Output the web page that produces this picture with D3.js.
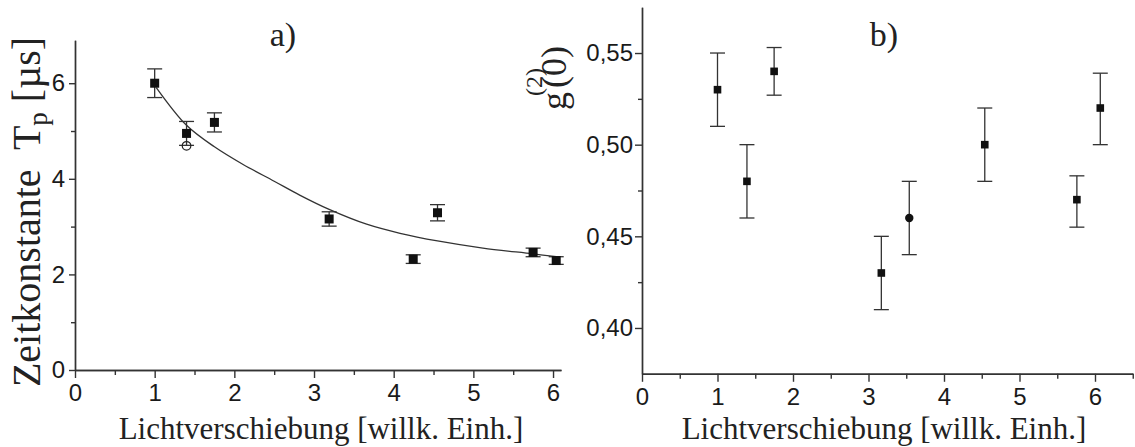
<!DOCTYPE html>
<html>
<head>
<meta charset="utf-8">
<script src="https://cdn.jsdelivr.net/npm/d3@7"></script>
<style>
  body { margin: 0; background: #fff; }
  svg { display: block; }
  .tick text { font-family: "Liberation Sans", Arial, sans-serif; fill: #1a1a1a; }
  .lbl { font-family: "Liberation Serif", "Times New Roman", serif; fill: #222; }
</style>
</head>
<body>
<svg width="1135" height="447"></svg>
<script>
// panel a: time constant vs light shift
var shiftA = [1.00, 1.40, 1.75, 3.19, 4.245, 4.55, 5.75, 6.04]
var tauA = [6.00, 4.95, 5.18, 3.16, 2.32, 3.29, 2.46, 2.29]
var tauErr = [0.30, 0.25, 0.20, 0.15, 0.09, 0.17, 0.09, 0.08]
var openShiftA = [1.40]
var openTauA = [4.69]
// fitted curve
var fitShift = [1.02, 1.40, 1.75, 2.11, 2.50, 2.82, 3.19, 3.66, 4.08, 4.55, 5.12, 5.75, 6.04]
var fitTau = [5.91, 5.12, 4.67, 4.30, 3.95, 3.66, 3.36, 3.05, 2.86, 2.70, 2.55, 2.43, 2.37]
var ticksA_x = [0, 1, 2, 3, 4, 5, 6]
var ticksA_y = [0, 2, 4, 6]

// panel b: g2(0) vs light shift
var shiftB = [1.00, 1.39, 1.75, 3.17, 4.54, 5.76, 6.07]
var g2B = [0.530, 0.480, 0.540, 0.430, 0.500, 0.470, 0.520]
var g2Lo = [0.510, 0.460, 0.527, 0.410, 0.480, 0.455, 0.500]
var g2Hi = [0.550, 0.500, 0.553, 0.450, 0.520, 0.483, 0.539]
var dotShiftB = [3.54]
var dotG2B = [0.460]
var dotLoB = [0.440]
var dotHiB = [0.480]
var ticksB_x = [0, 1, 2, 3, 4, 5, 6]
var ticksB_y = [0.40, 0.45, 0.50, 0.55]

var svg = d3.select("svg")

var axisColor = "#333"

var drawAxes = function(g, xScale, yScale, xTicks, xMinor, yTicks, yMinor, yFormat, yTickSize, yPad)
    {
        var xAxis = d3.axisBottom(xScale).tickValues(xTicks).tickSize(8).tickPadding(6).tickSizeOuter(0).tickFormat(d3.format("d"))
        var xMin = d3.axisBottom(xScale).tickValues(xMinor).tickSize(5).tickFormat("").tickSizeOuter(0)
        var yAxis = d3.axisLeft(yScale).tickValues(yTicks).tickSize(yTickSize).tickPadding(yPad).tickSizeOuter(0).tickFormat(yFormat)
        var yMin = d3.axisLeft(yScale).tickValues(yMinor).tickSize(4).tickFormat("").tickSizeOuter(0)

        var y0 = yScale.range()[0]
        var x0 = xScale.range()[0]

        g.append("g").attr("transform", "translate(0," + y0 + ")").call(xMin)
        g.append("g").attr("transform", "translate(0," + y0 + ")").call(xAxis)
            .selectAll("text").style("font-size", "24px")
        g.append("g").attr("transform", "translate(" + x0 + ",0)").call(yMin)
        g.append("g").attr("transform", "translate(" + x0 + ",0)").call(yAxis)
            .selectAll("text").style("font-size", "24px")

        g.selectAll(".domain, .tick line").attr("stroke", axisColor).attr("stroke-width", 1.4)
    }

var errBars = function(g, xs, lo, hi, xScale, yScale, cap)
    {
        var bars = g.append("g").attr("stroke", "#333").attr("stroke-width", 1.3).attr("fill", "none")
        xs.forEach(function(x, i)
            {
                var px = xScale(x)
                bars.append("line").attr("x1", px).attr("x2", px).attr("y1", yScale(lo[i])).attr("y2", yScale(hi[i]))
                bars.append("line").attr("x1", px - cap).attr("x2", px + cap).attr("y1", yScale(lo[i])).attr("y2", yScale(lo[i]))
                bars.append("line").attr("x1", px - cap).attr("x2", px + cap).attr("y1", yScale(hi[i])).attr("y2", yScale(hi[i]))
            })
    }

// ---------- panel a ----------
var xA = d3.scaleLinear().domain([0, 6.1]).range([75, 561])
var yA = d3.scaleLinear().domain([0, 6.9]).range([370, 40.2])

var gA = svg.append("g")
drawAxes(gA, xA, yA, ticksA_x, [0.5, 1.5, 2.5, 3.5, 4.5, 5.5], ticksA_y, [1, 3, 5], d3.format("d"), 6, 4)

var fitLine = d3.line()
    .x(function(d, i) { return xA(fitShift[i]) })
    .y(function(d, i) { return yA(fitTau[i]) })
    .curve(d3.curveCatmullRom)

gA.append("path")
    .attr("d", fitLine(fitShift))
    .attr("fill", "none")
    .attr("stroke", "#333")
    .attr("stroke-width", 1.3)

errBars(gA, shiftA,
    tauA.map(function(v, i) { return v - tauErr[i] }),
    tauA.map(function(v, i) { return v + tauErr[i] }),
    xA, yA, 7.5)

gA.append("g").selectAll("rect")
    .data(shiftA)
    .enter()
    .append("rect")
    .attr("x", function(d) { return xA(d) - 4.5 })
    .attr("y", function(d, i) { return yA(tauA[i]) - 4.5 })
    .attr("width", 9)
    .attr("height", 9)
    .attr("fill", "#111")

gA.append("g").selectAll("circle")
    .data(openShiftA)
    .enter()
    .append("circle")
    .attr("cx", function(d) { return xA(d) })
    .attr("cy", function(d, i) { return yA(openTauA[i]) })
    .attr("r", 4.3)
    .attr("fill", "none")
    .attr("stroke", "#222")
    .attr("stroke-width", 1.2)

gA.append("text").attr("class", "lbl")
    .attr("x", 283).attr("y", 46)
    .attr("text-anchor", "middle")
    .style("font-size", "34px")
    .text("a)")

gA.append("text").attr("class", "lbl")
    .attr("x", 321).attr("y", 439)
    .attr("text-anchor", "middle")
    .style("font-size", "31px")
    .text("Lichtverschiebung [willk. Einh.]")

var yLabA = gA.append("text").attr("class", "lbl")
    .attr("transform", "translate(40,212) rotate(-90)")
    .attr("text-anchor", "middle")
    .style("font-size", "40px")
    .attr("xml:space", "preserve")
yLabA.append("tspan").text("Zeitkonstante  T")
yLabA.append("tspan").text("p").style("font-size", "27px").attr("dy", 7)
yLabA.append("tspan").text(" [\u00b5s]").attr("dy", -7)

// ---------- panel b ----------
var xB = d3.scaleLinear().domain([0, 6.5]).range([642, 1132.75])
var yB = d3.scaleLinear().domain([0.375, 0.575]).range([373.8, 7.2])

var gB = svg.append("g")
drawAxes(gB, xB, yB, ticksB_x, [0.5, 1.5, 2.5, 3.5, 4.5, 5.5, 6.5], ticksB_y, [0.425, 0.475, 0.525],
    function(d) { return d3.format(".2f")(d).replace(".", ",") }, 7, 2)

errBars(gB, shiftB, g2Lo, g2Hi, xB, yB, 7.5)
errBars(gB, dotShiftB, dotLoB, dotHiB, xB, yB, 7.5)

gB.append("g").selectAll("rect")
    .data(shiftB)
    .enter()
    .append("rect")
    .attr("x", function(d) { return xB(d) - 3.8 })
    .attr("y", function(d, i) { return yB(g2B[i]) - 3.8 })
    .attr("width", 7.6)
    .attr("height", 7.6)
    .attr("fill", "#111")

gB.append("g").selectAll("circle")
    .data(dotShiftB)
    .enter()
    .append("circle")
    .attr("cx", function(d) { return xB(d) })
    .attr("cy", function(d, i) { return yB(dotG2B[i]) })
    .attr("r", 4.2)
    .attr("fill", "#111")

gB.append("text").attr("class", "lbl")
    .attr("x", 884).attr("y", 46)
    .attr("text-anchor", "middle")
    .style("font-size", "34px")
    .text("b)")

gB.append("text").attr("class", "lbl")
    .attr("x", 884).attr("y", 439)
    .attr("text-anchor", "middle")
    .style("font-size", "31px")
    .text("Lichtverschiebung [willk. Einh.]")

var yLabB = gB.append("text").attr("class", "lbl")
    .attr("transform", "translate(566,78) rotate(-90)")
    .attr("text-anchor", "middle")
    .style("font-size", "36px")
yLabB.append("tspan").text("g")
yLabB.append("tspan").text("(2)").style("font-size", "24px").attr("dx", -4).attr("dy", -24)
yLabB.append("tspan").text("(0)").attr("dx", -20).attr("dy", 24)
</script>
</body>
</html>
